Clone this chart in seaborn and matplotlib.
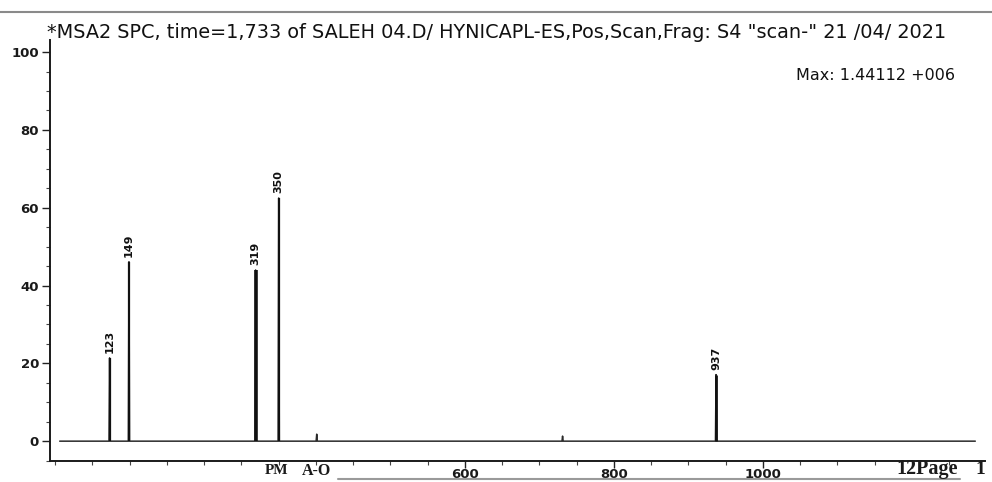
import matplotlib
matplotlib.use("Agg")
import matplotlib.pyplot as plt
from matplotlib.ticker import FixedLocator, MultipleLocator
from matplotlib.lines import Line2D
import pandas as pd
import seaborn as sns

# Labelled peaks (m/z, relative abundance %)
peak_mz = [123, 149, 319, 350, 937]
peak_pct = [21.4, 46.1, 44.0, 62.5, 17.1]
peak_lw = [1.6, 1.6, 2.6, 1.6, 2.0]

# Small unlabelled signals on the baseline
minor_mz = [401, 731]
minor_pct = [1.8, 1.3]

# Scanned m/z range
scan_range = [56, 1285]

title = '*MSA2 SPC, time=1,733 of SALEH 04.D/ HYNICAPL-ES,Pos,Scan,Frag: S4 "scan-" 21 /04/ 2021'
max_label = "Max: 1.44112 +006"
y_ticks = [0, 20, 40, 60, 80, 100]
x_ticks = [600, 800, 1000, 1200]
x_tick_labels = ["600", "800", "1000", ""]

sns.set_theme(style="ticks")
plt.rcParams["font.family"] = ["DejaVu Sans"]

# Build the stick trace: baseline with a spike at every signal
signals = sorted(list(zip(peak_mz, peak_pct)) + list(zip(minor_mz, minor_pct)))
xs, ys = [scan_range[0]], [0.0]
for mz, h in signals:
    xs += [mz - 0.8, mz, mz + 0.8]
    ys += [0.0, h, 0.0]
xs.append(scan_range[1])
ys.append(0.0)
trace = pd.DataFrame({"mz": xs, "pct": ys})

fig = plt.figure(figsize=(9.92, 4.82), dpi=100)
ax = fig.add_axes([50 / 992, 21 / 482, 935 / 992, 421 / 482])

sns.lineplot(data=trace, x="mz", y="pct", sort=False, estimator=None,
             color="#2a2a2a", lw=1.1, ax=ax)
ax.vlines(peak_mz, 0, peak_pct, colors="#111111", linewidths=peak_lw)

for mz, h in zip(peak_mz, peak_pct):
    ax.annotate(str(mz), (mz, h), xytext=(0, 3.5), textcoords="offset points",
                rotation=90, ha="center", va="bottom", fontsize=8,
                fontweight="bold", color="#111111")

ax.set_xlim(43, 1298)
ax.set_ylim(-5.1, 103.1)
ax.set_xlabel("")
ax.set_ylabel("")

for side in ("top", "right"):
    ax.spines[side].set_visible(False)
for side in ("left", "bottom"):
    ax.spines[side].set_color("#1a1a1a")
    ax.spines[side].set_linewidth(1.4)

ax.yaxis.set_major_locator(FixedLocator(y_ticks))
ax.yaxis.set_minor_locator(MultipleLocator(5))
ax.xaxis.set_major_locator(FixedLocator(x_ticks))
ax.set_xticklabels(x_tick_labels)
ax.xaxis.set_minor_locator(MultipleLocator(50))

ax.tick_params(axis="y", which="major", length=6, width=1.0, pad=2,
               labelsize=9.5, color="#222222")
ax.tick_params(axis="y", which="minor", length=3, width=0.8, color="#444444")
ax.tick_params(axis="x", which="major", length=5, width=1.0, pad=0,
               labelsize=9.5, color="#222222")
ax.tick_params(axis="x", which="minor", length=3, width=0.8, color="#444444")
for lab in ax.get_xticklabels() + ax.get_yticklabels():
    lab.set_fontweight("bold")
    lab.set_color("#1a1a1a")

fig.text(47 / 992, 1 - 33 / 482, title, ha="left", va="center",
         fontsize=13.9, family="DejaVu Sans", color="#111111")
fig.text(955 / 992, 1 - 75 / 482, max_label, ha="right", va="center",
         fontsize=11.5, family="DejaVu Sans", color="#111111")
fig.text(265 / 992, 1 - 471 / 482, "PM", ha="left", va="center",
         fontsize=11, family="Liberation Serif", fontweight="bold", color="#1a1a1a")
fig.text(302 / 992, 1 - 471 / 482, "A-O", ha="left", va="center",
         fontsize=11.5, family="Liberation Serif", fontweight="bold", color="#1a1a1a")
fig.text(896 / 992, 1 - 469 / 482, "12Page", ha="left", va="center",
         fontsize=14.5, family="Liberation Serif", fontweight="bold", color="#1a1a1a")
fig.text(975 / 992, 1 - 469 / 482, "1", ha="left", va="center",
         fontsize=14, family="Liberation Serif", fontweight="bold", color="#1a1a1a")

# Page rules above the header and under the axis
fig.add_artist(Line2D([0, 1], [1 - 12 / 482] * 2, transform=fig.transFigure,
                      color="#8a8a8a", lw=1.5))
fig.add_artist(Line2D([338 / 992, 960 / 992], [1 - 479 / 482] * 2,
                      transform=fig.transFigure, color="#9a9a9a", lw=1.5))

fig.savefig("out.png", dpi=100, facecolor="white")
